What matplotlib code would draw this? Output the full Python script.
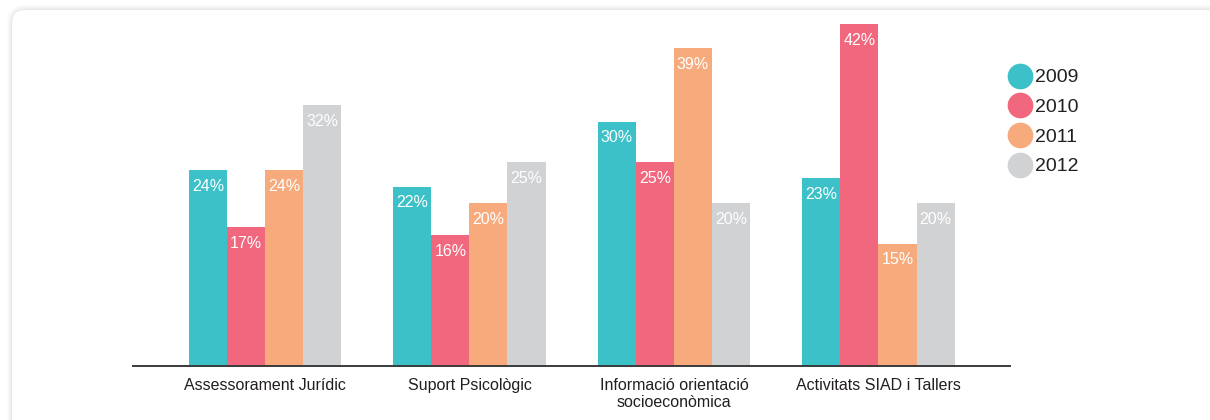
import numpy as np
import matplotlib
matplotlib.use('Agg')
from matplotlib import pyplot as plt
from matplotlib.patches import FancyBboxPatch
from matplotlib.lines import Line2D

plt.rcParams['font.family'] = ['Liberation Sans Narrow', 'Liberation Sans', 'DejaVu Sans']

categories = ['Assessorament Jurídic', 'Suport Psicològic',
              'Informació orientació\nsocioeconòmica', 'Activitats SIAD i Tallers']
years = ['2009', '2010', '2011', '2012']
v2009 = [24, 22, 30, 23]
v2010 = [17, 16, 25, 42]
v2011 = [24, 20, 39, 15]
v2012 = [32, 25, 20, 20]
colors = ['#3cc1c8', '#f1677d', '#f7ab7c', '#d1d2d4']

fig = plt.figure(figsize=(12.1, 4.2), dpi=100)
fig.patch.set_facecolor('white')

# card with soft shadow
W, H = 1210.0, 420.0
for i, a in enumerate([0.012, 0.018, 0.025, 0.035]):
    g = 5 - i * 1.2
    sh = FancyBboxPatch(((12 - g) / W, -0.2), (1300 - 12) / W, (H - 10 + g) / H + 0.2,
                        boxstyle='round,pad=0,rounding_size=0.014',
                        transform=fig.transFigure, facecolor='black', alpha=a,
                        edgecolor='none', zorder=0, mutation_aspect=W / H)
    fig.patches.append(sh)
card = FancyBboxPatch((12 / W, -0.2), (1300 - 12) / W, (H - 10) / H + 0.2,
                      boxstyle='round,pad=0,rounding_size=0.011',
                      transform=fig.transFigure, facecolor='white',
                      edgecolor='none', zorder=1, mutation_aspect=W / H)
fig.patches.append(card)

ax = fig.add_axes([133 / W, (H - 365.5) / H, 877 / W, (365.5 - 24) / H])
ax.set_facecolor('none')
ax.set_zorder(2)

x = np.arange(len(categories))
bw = 0.186
series = [v2009, v2010, v2011, v2012]
for k, (vals, col) in enumerate(zip(series, colors)):
    pos = x + (k - 1.5) * bw
    ax.bar(pos, vals, width=bw, color=col, edgecolor='none', label=years[k])
    for p, v in zip(pos, vals):
        ax.text(p, v - 2.0, '{:d}%'.format(v), ha='center', va='center',
                color='white', fontsize=11.5)

ax.set_ylim(0, 42)
ax.set_xlim(-0.645, 3.643)
ax.set_xticks(x)
ax.set_xticklabels(categories, fontsize=11.5, color='#231f20', linespacing=1.2)
ax.tick_params(axis='x', length=0, pad=9)
ax.set_yticks([])
for s in ['top', 'right', 'left']:
    ax.spines[s].set_visible(False)
ax.spines['bottom'].set_color('#3a3a3a')
ax.spines['bottom'].set_linewidth(1.4)

handles = [Line2D([], [], marker='o', linestyle='none', markersize=18.5,
                  markerfacecolor=c, markeredgecolor='none') for c in colors]
leg = fig.legend(handles, years, loc='upper left', bbox_to_anchor=(1002 / W, 1 - 61 / H),
                 frameon=False, fontsize=14, handlelength=1.0, handletextpad=0.3,
                 labelspacing=0.62, borderaxespad=0)
for t in leg.get_texts():
    t.set_color('#231f20')

plt.savefig('out.png', dpi=100)
